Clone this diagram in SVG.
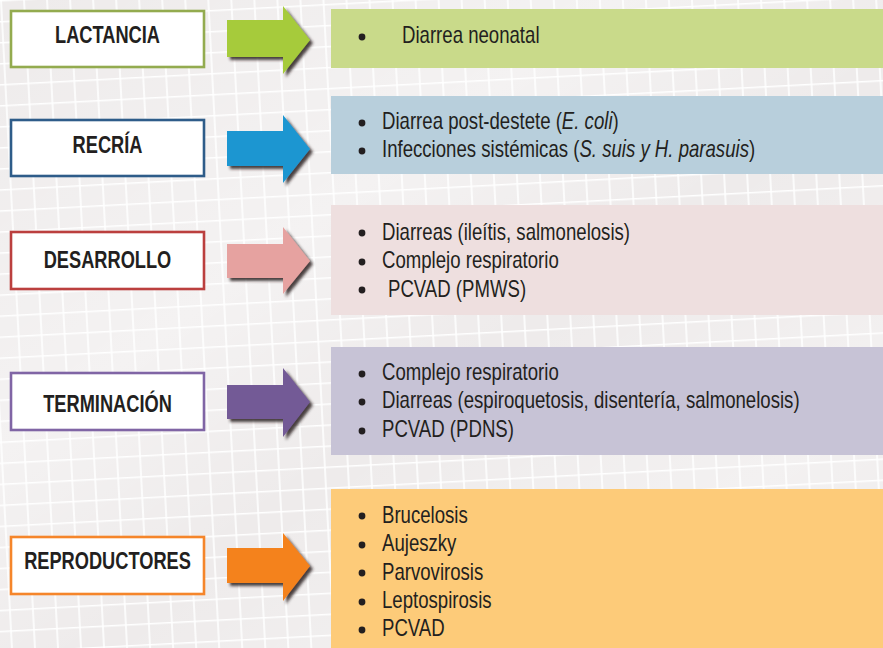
<svg xmlns="http://www.w3.org/2000/svg" width="883" height="648" viewBox="0 0 883 648">
<style>
.lbl{font-family:"Liberation Sans",Arial,sans-serif;font-weight:bold;font-size:24px;fill:#231f20;text-anchor:middle}
.itm{font-family:"Liberation Sans",Arial,sans-serif;font-size:24px;fill:#231f20}
.bx{fill:#ffffff;stroke-width:2.6}
.bul{fill:#231f20}
</style>
<defs>
<pattern id="grid" width="23" height="21" patternUnits="userSpaceOnUse" patternTransform="rotate(-3)">
<rect width="23" height="21" fill="#eeebeb"/>
<path d="M0 0.8H23M1 0V21" stroke="#ffffff" stroke-width="1.6"/>
</pattern>
<linearGradient id="sheen" x1="0" y1="0" x2="1" y2="1">
<stop offset="0" stop-color="#ffffff" stop-opacity="0"/>
<stop offset="0.35" stop-color="#ffffff" stop-opacity="0.35"/>
<stop offset="0.55" stop-color="#ffffff" stop-opacity="0"/>
<stop offset="0.8" stop-color="#ffffff" stop-opacity="0.3"/>
<stop offset="1" stop-color="#ffffff" stop-opacity="0"/>
</linearGradient>
<filter id="sh" x="-20%" y="-20%" width="150%" height="150%">
<feDropShadow dx="3" dy="3" stdDeviation="1.6" flood-color="#2a2222" flood-opacity="0.85"/>
</filter>
</defs>
<rect width="883" height="648" fill="url(#grid)"/>
<rect width="883" height="648" fill="url(#sheen)"/>

<g id="connectors">
<polygon filter="url(#sh)" fill="#a6cb3a" points="227,20 283,20 283,6 310,40 283,74 283,57 227,57"/>
<polygon filter="url(#sh)" fill="#1f96d1" points="227,131 283,131 283,115 310,149 283,183 283,166 227,166"/>
<polygon filter="url(#sh)" fill="#e6a2a0" points="227,244 283,244 283,227 310,261 283,294 283,278 227,278"/>
<polygon filter="url(#sh)" fill="#735a96" points="227,385 283,385 283,368 310,402 283,437 283,419 227,419"/>
<polygon filter="url(#sh)" fill="#f4821f" points="227,548 283,548 283,533 310,566 283,601 283,583 227,583"/>
</g>

<g id="lactancia">
<rect class="bx" x="11" y="11" width="193" height="56" stroke="#93ab4f"/>
<text class="lbl" transform="translate(107.5 43) scale(0.76 1)">LACTANCIA</text>
</g>
<g id="recria">
<rect class="bx" x="11" y="120" width="193" height="56" stroke="#2e5c89"/>
<text class="lbl" transform="translate(107.5 153) scale(0.76 1)">RECRÍA</text>
</g>
<g id="desarrollo">
<rect class="bx" x="11" y="232" width="193" height="57" stroke="#bb3f3e"/>
<text class="lbl" transform="translate(107.5 268) scale(0.76 1)">DESARROLLO</text>
</g>
<g id="terminacion">
<rect class="bx" x="11" y="373" width="193" height="57" stroke="#8065a5"/>
<text class="lbl" transform="translate(107.5 412) scale(0.76 1)">TERMINACIÓN</text>
</g>
<g id="reproductores">
<rect class="bx" x="11" y="537" width="193" height="57" stroke="#f5852a"/>
<text class="lbl" transform="translate(107.5 569) scale(0.76 1)">REPRODUCTORES</text>
</g>

<g id="lactancia-list">
<rect x="331" y="9" width="552" height="59" fill="#c9da8a"/>
<circle class="bul" cx="362" cy="37" r="3.4"/>
<text class="itm" transform="translate(402 43) scale(0.775 1)">Diarrea neonatal</text>
</g>
<g id="recria-list">
<rect x="331" y="96" width="552" height="78" fill="#b8cfdc"/>
<circle class="bul" cx="362" cy="123" r="3.4"/>
<text class="itm" transform="translate(382 129) scale(0.775 1)">Diarrea post-destete (<tspan font-style="italic">E. coli</tspan>)</text>
<circle class="bul" cx="362" cy="151" r="3.4"/>
<text class="itm" transform="translate(382 157) scale(0.775 1)">Infecciones sistémicas (<tspan font-style="italic">S. suis y H. parasuis</tspan>)</text>
</g>
<g id="desarrollo-list">
<rect x="331" y="205" width="552" height="110" fill="#eedfdf"/>
<circle class="bul" cx="362" cy="233" r="3.4"/>
<text class="itm" transform="translate(382 240) scale(0.775 1)">Diarreas (ileítis, salmonelosis)</text>
<circle class="bul" cx="362" cy="262" r="3.4"/>
<text class="itm" transform="translate(382 268) scale(0.775 1)">Complejo respiratorio</text>
<circle class="bul" cx="362" cy="290" r="3.4"/>
<text class="itm" transform="translate(388 297) scale(0.775 1)">PCVAD (PMWS)</text>
</g>
<g id="terminacion-list">
<rect x="331" y="347" width="552" height="108" fill="#c7c3d6"/>
<circle class="bul" cx="362" cy="374" r="3.4"/>
<text class="itm" transform="translate(382 380) scale(0.775 1)">Complejo respiratorio</text>
<circle class="bul" cx="362" cy="402" r="3.4"/>
<text class="itm" transform="translate(382 408) scale(0.775 1)">Diarreas (espiroquetosis, disentería, salmonelosis)</text>
<circle class="bul" cx="362" cy="431" r="3.4"/>
<text class="itm" transform="translate(382 437) scale(0.775 1)">PCVAD (PDNS)</text>
</g>
<g id="reproductores-list">
<rect x="331" y="489" width="552" height="159" fill="#fdcb79"/>
<circle class="bul" cx="362" cy="516" r="3.4"/>
<text class="itm" transform="translate(382 523) scale(0.775 1)">Brucelosis</text>
<circle class="bul" cx="362" cy="545" r="3.4"/>
<text class="itm" transform="translate(382 551) scale(0.775 1)">Aujeszky</text>
<circle class="bul" cx="362" cy="573" r="3.4"/>
<text class="itm" transform="translate(382 580) scale(0.775 1)">Parvovirosis</text>
<circle class="bul" cx="362" cy="602" r="3.4"/>
<text class="itm" transform="translate(382 608) scale(0.775 1)">Leptospirosis</text>
<circle class="bul" cx="362" cy="630" r="3.4"/>
<text class="itm" transform="translate(382 636) scale(0.775 1)">PCVAD</text>
</g>
</svg>
